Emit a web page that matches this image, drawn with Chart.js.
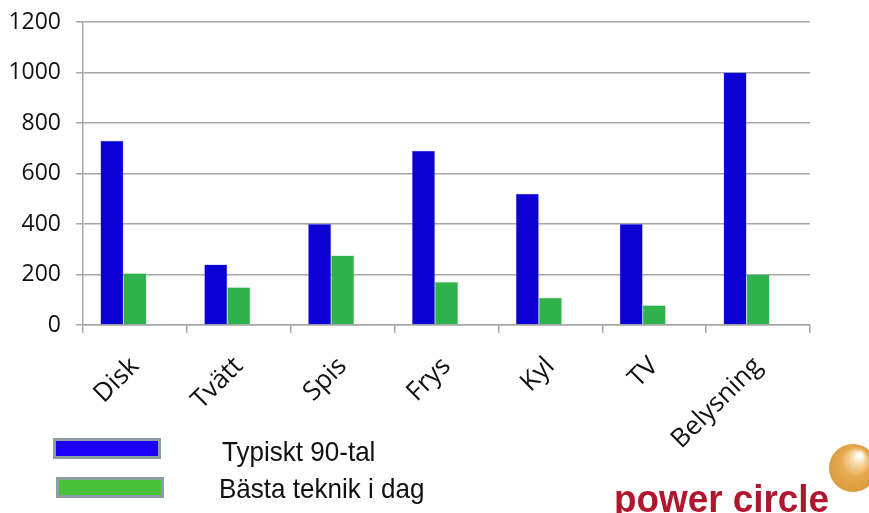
<!DOCTYPE html>
<html>
<head>
<meta charset="utf-8">
<script src="https://cdn.jsdelivr.net/npm/chart.js@4.4.1/dist/chart.umd.min.js"></script>
<style>
  body { margin: 0; background: #fff; }
  #wrap { position: relative; width: 869px; height: 513px; }
</style>
</head>
<body>
<div id="wrap"><canvas id="chart" width="869" height="513"></canvas></div>
<script>
const categories = ["Disk", "Tvätt", "Spis", "Frys", "Kyl", "TV", "Belysning"];
const typical90s = [730, 240, 400, 690, 520, 400, 1000];
const bestToday = [205, 150, 275, 170, 108, 78, 200];
// empty third slot, the original chart leaves room for one more bar per group
const emptySlot = [null, null, null, null, null, null, null];
const yTicks = [0, 200, 400, 600, 800, 1000, 1200];

const legendItems = [
    { text: "Typiskt 90-tal", fill: "#1a00f8" },
    { text: "Bästa teknik i dag", fill: "#48c23b" }
];

const gridGray = "#a6a6a6";

// legend boxes + logo drawn straight onto the canvas
const extras = {
    id: "extras",
    afterDraw(chart) {
        const ctx = chart.ctx;
        ctx.save();

        legendItems.forEach((item, i) => {
            let x = i === 0 ? 53 : 56;
            let y = i === 0 ? 438 : 477;
            ctx.fillStyle = "#8d9da3";
            ctx.fillRect(x, y, 108, 21);
            ctx.fillStyle = item.fill;
            ctx.fillRect(x + 3, y + 3, 102, 15);

            ctx.save();
            ctx.font = "28px 'Liberation Sans', Arial, sans-serif";
            ctx.fillStyle = "#111";
            ctx.textBaseline = "alphabetic";
            ctx.translate(i === 0 ? 222 : 219, i === 0 ? 461 : 498);
            ctx.scale(0.93, 1);
            ctx.fillText(item.text, 0, 0);
            ctx.restore();
        });

        // power circle logo
        ctx.font = "bold 38px 'Liberation Sans', Arial, sans-serif";
        ctx.fillStyle = "#b0172e";
        ctx.textBaseline = "alphabetic";
        ctx.save();
        ctx.translate(614, 512);
        ctx.scale(0.97, 1);
        ctx.fillText("power circle", 0, 0);
        ctx.restore();

        let g = ctx.createRadialGradient(860, 455, 2, 852, 468, 25);
        g.addColorStop(0, "#ffffff");
        g.addColorStop(0.25, "#f3d39c");
        g.addColorStop(0.55, "#e6aa50");
        g.addColorStop(1, "#d99a3c");
        ctx.fillStyle = g;
        ctx.beginPath();
        ctx.arc(853, 468, 24, 0, Math.PI * 2);
        ctx.fill();

        ctx.restore();
    }
};

new Chart(document.getElementById("chart").getContext("2d"), {
    type: "bar",
    data: {
        labels: categories,
        datasets: [
            { label: "Typiskt 90-tal", data: typical90s, backgroundColor: "#0b00d4", borderColor: "#7f78e8", borderWidth: 0.5 },
            { label: "Bästa teknik i dag", data: bestToday, backgroundColor: "#2fb24c", borderColor: "#8ad49a", borderWidth: 0.5 },
            { label: "", data: emptySlot, backgroundColor: "rgba(0,0,0,0)" }
        ]
    },
    options: {
        responsive: false,
        animation: false,
        events: [],
        layout: { padding: { top: 22, right: 59, left: 0, bottom: 0 } },
        datasets: { bar: { categoryPercentage: 0.665, barPercentage: 1 } },
        plugins: { legend: { display: false }, tooltip: { enabled: false } },
        scales: {
            x: {
                afterFit(scale) { scale.height = 188; },
                grid: { drawOnChartArea: false, color: gridGray, lineWidth: 1.5, tickLength: 8 },
                border: { color: gridGray, width: 1.5 },
                ticks: {
                    color: "#111",
                    font: { family: "'Open Sans', sans-serif", size: 26 },
                    maxRotation: 45, minRotation: 45, autoSkip: false, padding: 18
                }
            },
            y: {
                min: 0,
                max: 1200,
                afterFit(scale) {
                    scale.width = 83;
                    scale.paddingTop = 0;
                    scale.paddingBottom = 0;
                },
                afterBuildTicks(scale) { scale.ticks = yTicks.map(v => ({ value: v })); },
                grid: { color: gridGray, lineWidth: 1.5, tickLength: 7 },
                border: { color: gridGray, width: 1.5 },
                ticks: {
                    color: "#111",
                    font: { family: "'Open Sans', sans-serif", size: 23 },
                    padding: 15,
                    callback: v => String(v)
                }
            }
        }
    },
    plugins: [extras]
});
</script>
</body>
</html>
